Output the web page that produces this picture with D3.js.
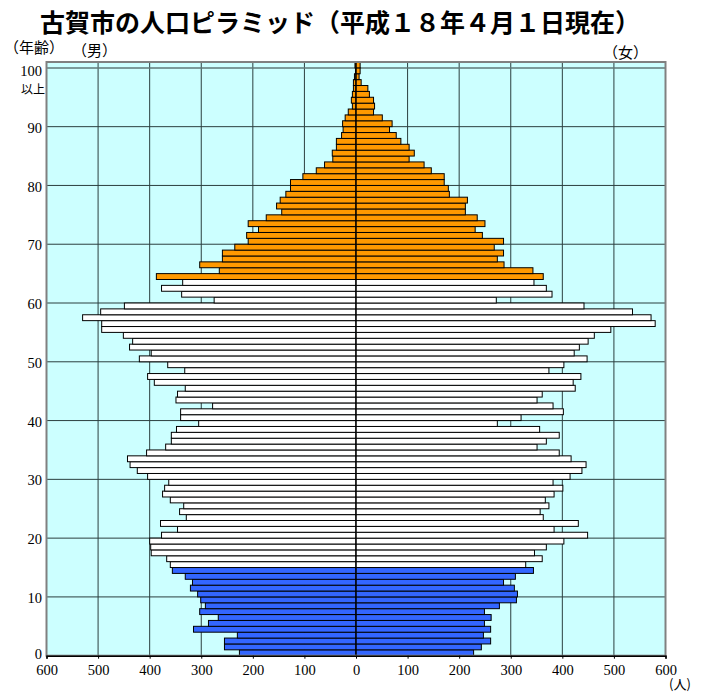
<!DOCTYPE html>
<html><head><meta charset="utf-8">
<script src="https://cdn.jsdelivr.net/npm/d3@7"></script>
<style>body{margin:0;background:#fff}svg{display:block}</style>
</head><body>
<svg id="c" width="701" height="693"></svg>
<script>
const ages = d3.range(0, 101);
const male = [226,255,255,230,315,286,267,303,292,301,
307,321,317,331,356,360,367,397,398,400,
377,346,379,329,342,334,360,375,371,363,
404,424,438,443,406,369,358,358,348,305,
340,340,278,349,346,331,391,404,332,365,
420,397,439,433,451,493,493,530,495,449,
275,338,377,336,387,265,303,259,259,235,
209,212,189,209,174,144,154,147,136,127,
127,103,77,61,45,46,38,38,28,25,
26,21,15,7,9,7,5,5,3,1,2];
const female = [228,243,261,247,261,249,262,249,278,311,
313,307,286,309,344,329,361,346,369,403,
449,384,431,363,357,374,367,384,401,382,
415,438,446,417,394,351,369,394,356,274,
320,402,382,351,361,425,421,436,374,403,
448,423,433,450,462,494,580,572,536,442,
272,380,369,345,363,343,287,274,286,268,
286,245,231,250,235,212,212,216,181,179,
171,171,146,132,103,113,103,87,78,65,
70,51,34,36,34,26,23,10,6,8,8];
const groupStart = [0, 15, 64];          // first age of each colour group
const groupColors = ["#3366ff", "#ffffff", "#ff9900"];
const xTicks = [-600,-500,-400,-300,-200,-100,0,100,200,300,400,500,600];
const yTicks = [0,10,20,30,40,50,60,70,80,90,100];

const svg = d3.select("#c");
const x = d3.scaleLinear().domain([-600, 600]).range([46.5, 665.5]);
const y = d3.scaleBand().domain(ages).range([655.7, 62]).padding(0);
const colorOf = a => groupColors[d3.bisectRight(groupStart, a) - 1];
const bottomOf = a => y(a) + y.bandwidth();

// plot background
svg.append("rect").attr("x", x(-600)).attr("y", 62).attr("width", x(600) - x(-600))
  .attr("height", 655.7 - 62).attr("fill", "#ccffff");

// grid
svg.append("g").selectAll("line").data(xTicks.slice(1, -1)).join("line")
  .attr("x1", d => x(d)).attr("x2", d => x(d)).attr("y1", 62).attr("y2", 655.7)
  .attr("stroke", "#2b3f3f").attr("stroke-width", 1);
svg.append("g").selectAll("line").data(yTicks.slice(1)).join("line")
  .attr("x1", x(-600)).attr("x2", x(600)).attr("y1", d => bottomOf(d)).attr("y2", d => bottomOf(d))
  .attr("stroke", d => d === 100 ? "#607878" : "#2b3f3f").attr("stroke-width", d => d === 100 ? 1.5 : 1);

// bars
const bars = svg.append("g").attr("stroke", "#000").attr("stroke-width", 1);
bars.selectAll("rect.m").data(ages).join("rect").attr("class", "m")
  .attr("x", a => x(-male[a])).attr("width", a => x(0) - x(-male[a]))
  .attr("y", a => y(a)).attr("height", y.bandwidth()).attr("fill", a => colorOf(a));
bars.selectAll("rect.f").data(ages).join("rect").attr("class", "f")
  .attr("x", x(0)).attr("width", a => x(female[a]) - x(0))
  .attr("y", a => y(a)).attr("height", y.bandwidth()).attr("fill", a => colorOf(a));

// centre line
svg.append("line").attr("x1", x(0)).attr("x2", x(0)).attr("y1", 62).attr("y2", 655.7)
  .attr("stroke", "#000").attr("stroke-width", 1);

// frame
svg.append("rect").attr("x", x(-600)).attr("y", 62).attr("width", x(600) - x(-600))
  .attr("height", 655.7 - 62).attr("fill", "none").attr("stroke", "#808080").attr("stroke-width", 2);

// x axis
const xAxis = d3.axisBottom(x).tickValues(xTicks).tickSize(3).tickFormat(d => Math.abs(d));
const gx = svg.append("g").attr("transform", "translate(0,655.7)").call(xAxis);
gx.select(".domain").attr("stroke", "#000").attr("stroke-width", 1.5);
gx.selectAll("text").attr("font-family", "'Liberation Serif', serif").attr("font-size", 14.5)
  .attr("fill", "#000").attr("dy", "0.92em");

// y labels
const ty = svg.append("g").attr("font-family", "'Liberation Serif', serif").attr("font-size", 14.5)
  .attr("text-anchor", "end").attr("fill", "#000");
ty.selectAll("text").data(yTicks).join("text")
  .attr("x", 42).attr("y", d => bottomOf(d) + (d === 100 ? 3 : d === 0 ? -2 : 1)).attr("dy", "0.35em").text(d => d);
svg.append("text").attr("x", 45).attr("y", 94).attr("text-anchor", "end")
  .attr("font-family", "'Noto Sans CJK JP'").attr("font-size", 12).text("以上");

// title and labels
svg.append("text").attr("x", 340).attr("y", 32).attr("text-anchor", "middle")
  .attr("font-family", "'Noto Sans CJK JP'").attr("font-weight", "bold").attr("font-size", 25)
  .text("古賀市の人口ピラミッド（平成１８年４月１日現在）");
const lab = (t, xx, yy, fs) => svg.append("text").attr("x", xx).attr("y", yy)
  .attr("font-family", "'Noto Sans CJK JP'").attr("font-size", fs).text(t);
lab("（年齢）", 4, 53, 15);
lab("（男）", 72, 56, 15);
lab("（女）", 603, 58, 15);
lab("(人)", 669, 689, 13);
</script>
</body></html>
